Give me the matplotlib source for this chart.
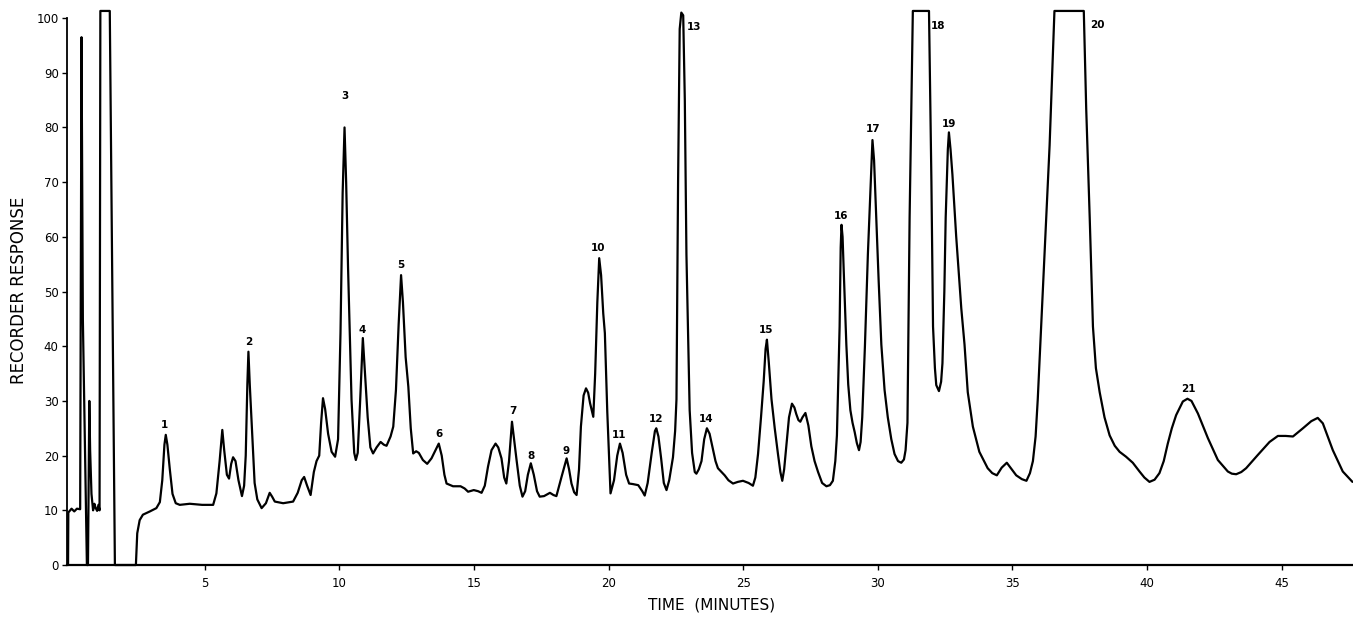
import matplotlib
matplotlib.use("Agg")
import matplotlib.pyplot as plt

# ---- data (time in minutes, recorder response) ----
time_min = [
    -0.08, -0.07, 0.05, 0.15, 0.25, 0.37, 0.42, 0.47, 0.62, 0.66, 0.71, 0.74, 0.79, 0.85, 0.90, 0.94, 1.00, 1.05, 1.09,
    1.12, 1.47, 1.66, 2.44, 2.49, 2.58, 2.70, 2.96, 3.20, 3.33, 3.42, 3.50, 3.55, 3.61, 3.70, 3.80, 3.92, 4.07, 4.44,
    4.90, 5.31, 5.43, 5.55, 5.65, 5.72, 5.82, 5.90, 5.98, 6.05, 6.14, 6.25, 6.38, 6.46, 6.52, 6.58, 6.62, 6.67, 6.75,
    6.85, 6.95, 7.11, 7.27, 7.41, 7.50, 7.60, 7.91, 8.28, 8.45, 8.60, 8.69, 8.80, 8.93, 9.05, 9.15, 9.25, 9.32, 9.39,
    9.47, 9.58, 9.71, 9.84, 9.95, 10.04, 10.12, 10.19, 10.25, 10.32, 10.45, 10.55, 10.61, 10.68, 10.77, 10.87, 10.95,
    11.05, 11.15, 11.25, 11.38, 11.53, 11.65, 11.75, 11.90, 12.00, 12.10, 12.20, 12.29, 12.36, 12.46, 12.56, 12.65,
    12.74, 12.85, 12.95, 13.10, 13.26, 13.42, 13.54, 13.69, 13.80, 13.90, 13.98, 14.22, 14.50, 14.65, 14.78, 14.99,
    15.15, 15.28, 15.40, 15.52, 15.65, 15.80, 15.90, 16.02, 16.12, 16.20, 16.30, 16.41, 16.50, 16.58, 16.70, 16.80,
    16.90, 17.00, 17.11, 17.22, 17.34, 17.44, 17.60, 17.82, 17.95, 18.06, 18.25, 18.44, 18.53, 18.62, 18.72, 18.81,
    18.90, 18.97, 19.07, 19.16, 19.24, 19.31, 19.43, 19.50, 19.58, 19.65, 19.72, 19.80, 19.86, 19.95, 20.07, 20.20,
    20.32, 20.42, 20.52, 20.65, 20.76, 20.90, 21.10, 21.25, 21.34, 21.45, 21.60, 21.72, 21.77, 21.85, 21.95, 22.05,
    22.15, 22.25, 22.39, 22.47, 22.52, 22.58, 22.64, 22.70, 22.77, 22.83, 22.89, 23.01, 23.10, 23.20, 23.26, 23.35,
    23.45, 23.55, 23.65, 23.75, 23.88, 23.97, 24.06, 24.31, 24.45, 24.62, 24.80, 24.99, 25.20, 25.36, 25.45, 25.55,
    25.66, 25.76, 25.83, 25.88, 25.95, 26.05, 26.17, 26.29, 26.38, 26.45, 26.52, 26.60, 26.70, 26.81, 26.90, 26.97,
    27.05, 27.12, 27.20, 27.31, 27.42, 27.53, 27.65, 27.78, 27.93, 28.09, 28.22, 28.33, 28.42, 28.48, 28.58, 28.62,
    28.65, 28.69, 28.73, 28.83, 28.90, 28.98, 29.06, 29.14, 29.22, 29.30, 29.36, 29.42, 29.52, 29.63, 29.72, 29.80,
    29.86, 29.94, 30.03, 30.13, 30.25, 30.37, 30.50, 30.62, 30.75, 30.87, 30.97, 31.03, 31.10, 31.18, 31.30, 31.90,
    31.99, 32.05, 32.12, 32.17, 32.27, 32.35, 32.40, 32.47, 32.52, 32.60, 32.64, 32.70, 32.77, 32.91, 33.10, 33.22,
    33.34, 33.53, 33.77, 34.08, 34.25, 34.42, 34.60, 34.79, 34.97, 35.14, 35.35, 35.52, 35.65, 35.76, 35.86, 35.94,
    36.13, 36.38, 36.56, 37.65, 37.74, 37.87, 37.99, 38.10, 38.24, 38.42, 38.61, 38.80, 38.98, 39.22, 39.47, 39.72,
    39.90, 40.09, 40.28, 40.46, 40.62, 40.77, 40.92, 41.08, 41.33, 41.50, 41.65, 41.89, 42.26, 42.63, 43.00, 43.15,
    43.31, 43.50, 43.68, 44.11, 44.55, 44.86, 45.15, 45.42, 45.79, 46.10, 46.34, 46.53, 46.90, 47.27, 47.63,
]
response = [
    0, 9.6, 10.3, 9.8, 10.3, 10.2, 96.5, 45, 0, 0, 30, 21, 13, 10, 11.2, 10.5, 9.9, 11.0, 10.0,
    101.3, 101.3, 0, 0, 5.8, 8.2, 9.2, 9.8, 10.4, 11.5, 15.5, 22, 23.8, 22, 17.5, 13, 11.3, 11.0, 11.2,
    11.0, 11.0, 13.1, 19, 24.7, 21, 16.5, 15.8, 18.5, 19.7, 19.0, 15.5, 12.6, 14.5, 20, 33, 39.0, 33, 25,
    15, 12.0, 10.4, 11.3, 13.2, 12.5, 11.6, 11.3, 11.6, 13.2, 15.5, 16.1, 14.5, 12.8, 17.0, 19.0, 20.0, 26, 30.5,
    28.5, 24.0, 20.7, 19.8, 23.0, 42.4, 68, 80.0, 70, 54.5, 30.2, 20.5, 19.2, 20.5, 30, 41.5, 35,
    27, 21.5, 20.4, 21.5, 22.5, 22.0, 21.8, 23.5, 25.3, 32, 44, 53.0, 48, 38, 32.6, 25,
    20.4, 20.8, 20.5, 19.2, 18.5, 19.5, 20.7, 22.2, 20.0, 16.5, 14.9, 14.4, 14.4, 14.0, 13.4, 13.7,
    13.5, 13.2, 14.5, 18.0, 21.0, 22.2, 21.5, 19.5, 16.0, 14.9, 19, 26.2, 22.5, 19.2, 14.5, 12.5,
    13.5, 16.5, 18.6, 16.5, 13.5, 12.5, 12.6, 13.2, 12.8, 12.6, 16.1, 19.5, 17.5, 14.9, 13.3, 12.8,
    17.5, 25.3, 31.0, 32.3, 31.5, 29.6, 27.1, 35, 48, 56.1, 53, 46, 42.4, 28, 13.1, 15.5,
    20.0, 22.2, 20.5, 16.5, 14.9, 14.8, 14.6, 13.5, 12.7, 15.0, 20.5, 24.5, 25.0, 23.5, 19.5, 15.0,
    13.7, 15.5, 19.7, 24.5, 30.3, 70.1, 98, 101.0, 100.5, 85, 56.8, 28.3, 20.5, 17.0, 16.7, 17.5,
    19.0, 23.0, 25.0, 24.0, 21.0, 19.0, 17.7, 16.4, 15.5, 14.9, 15.2, 15.4, 15.0, 14.5, 16.0, 20.3,
    27.0, 33.6, 39.5, 41.2, 37, 30.3, 25.0, 20.3, 17.0, 15.4, 17.5, 21.7, 27.0, 29.5, 28.8, 27.6,
    26.5, 26.2, 27.0, 27.8, 25.5, 21.7, 19.0, 17.0, 15.0, 14.4, 14.6, 15.4, 19.0, 23.7, 43.6, 58,
    62.2, 60, 54.2, 40.3, 33, 28.3, 26.0, 24.3, 22.3, 21.0, 22.5, 27.0, 40, 56.8, 68, 77.7,
    74, 63.5, 52, 40.3, 32, 27.0, 23.0, 20.3, 19.0, 18.7, 19.3, 21.0, 26, 63.5, 101.3, 101.3,
    70.1, 43.6, 36, 32.9, 31.8, 33.5, 36.9, 50, 63.5, 76, 79.1, 76, 71.4, 60.1, 46.9, 40.3,
    31.6, 25.3, 20.7, 17.7, 16.8, 16.4, 17.8, 18.7, 17.5, 16.4, 15.7, 15.4, 16.8, 19.0, 23.5, 30.3,
    50.2, 76.7, 101.3, 101.3, 83.4, 63.5, 43.6, 36, 31.6, 27.0, 23.7, 21.8, 20.7, 19.8, 18.7, 17.1,
    16.0, 15.2, 15.6, 16.8, 19.0, 22.2, 25.0, 27.4, 29.9, 30.4, 30.0, 27.7, 23.2, 19.2, 17.1, 16.7,
    16.6, 17.0, 17.7, 20.1, 22.5, 23.6, 23.6, 23.5, 25.0, 26.3, 26.9, 25.9, 21.0, 17.1, 15.2,
]

# peak numbers and where their labels sit
peak_ids = ["1", "2", "3", "4", "5", "6", "7", "8", "9", "10", "11", "12", "13", "14", "15",
            "16", "17", "18", "19", "20", "21"]
label_t = [3.50, 6.64, 10.20, 10.86, 12.28, 13.69, 16.43, 17.11, 18.43, 19.62, 20.39, 21.77, 23.16,
           23.61, 25.86, 28.64, 29.84, 32.23, 32.64, 38.17, 41.55]
label_y = [25.6, 40.8, 85.7, 43.0, 54.9, 23.9, 28.2, 20.0, 20.9, 57.9, 23.8, 26.7, 98.3,
           26.7, 43.0, 63.8, 79.8, 98.5, 80.6, 98.8, 32.2]

x_ticks = [5, 10, 15, 20, 25, 30, 35, 40, 45]
y_ticks = [0, 10, 20, 30, 40, 50, 60, 70, 80, 90, 100]

fig = plt.figure(figsize=(13.53, 6.19), dpi=100)
ax = fig.add_axes([0.0495, 0.0872, 0.9505, 0.9013])

ax.plot(time_min, response, color="black", linewidth=1.6, solid_joinstyle="round",
        solid_capstyle="round", clip_on=False)

for lab, tx, ty in zip(peak_ids, label_t, label_y):
    ax.text(tx, ty, lab, ha="center", va="center", fontsize=7.5, fontweight="bold")

ax.set_xlim(-0.12, 47.65)
ax.set_ylim(0, 102)
for s in ["top", "right"]:
    ax.spines[s].set_visible(False)
ax.spines["left"].set_bounds(0, 100)
ax.spines["left"].set_linewidth(1.3)
ax.spines["bottom"].set_linewidth(1.6)

ax.set_xticks(x_ticks)
ax.set_yticks(y_ticks)
ax.set_xticklabels([str(v) for v in x_ticks])
ax.set_yticklabels([str(v) for v in y_ticks])
ax.tick_params(axis="both", direction="out", length=3.5, width=1.0, labelsize=8.5, pad=2.5)
ax.tick_params(axis="x", pad=5)

ax.set_ylabel("RECORDER RESPONSE", fontsize=12)
ax.yaxis.set_label_coords(-0.030, 0.493)
ax.set_xlabel("TIME  (MINUTES)", fontsize=11)
ax.xaxis.set_label_coords(0.5016, -0.058)

fig.savefig("out.png", dpi=100)
